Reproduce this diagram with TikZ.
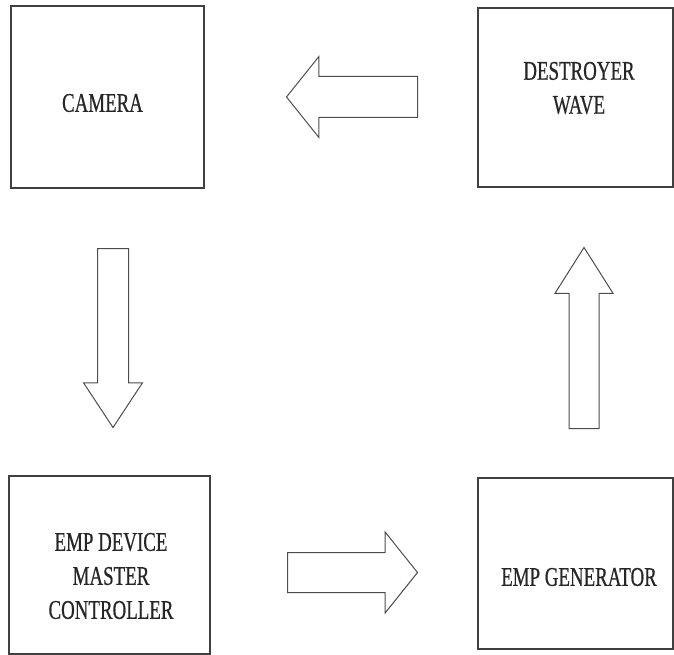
\documentclass[tikz,border=0pt]{standalone}
\usepackage{fontspec}
\newfontfamily\boxfont[FakeStretch=0.7,FakeBold=0.6]{Liberation Serif}
\usetikzlibrary{shapes.arrows}

\begin{document}
\begin{tikzpicture}[x=1pt, y=-1pt,
   block/.style={draw=black!75, line width=1.3pt, rectangle, inner sep=0pt},
   txt/.style={font=\boxfont\fontsize{27}{34}\selectfont, align=center, text=black!85},
   bigarrow/.style={draw=black!70, line width=1pt, single arrow, anchor=tail, line join=miter, single arrow head indent=0pt}]
\useasboundingbox (0,0) rectangle (674,655);
% the four blocks
\node[block, minimum width=193pt, minimum height=182pt, label={[txt, xshift=-5pt, yshift=-6pt]center:CAMERA}] (cam) at (107.5,97) {};
\node[block, minimum width=195pt, minimum height=179pt, label={[txt, xshift=3.5pt, yshift=9.5pt]center:DESTROYER\\WAVE}] (wave) at (575.5,97.5) {};
\node[block, minimum width=201pt, minimum height=178pt, label={[txt, xshift=1.5pt, yshift=-11pt]center:EMP DEVICE\\MASTER\\CONTROLLER}] (ctrl) at (109.5,565) {};
\node[block, minimum width=195pt, minimum height=171pt, label={[txt, xshift=3.5pt, yshift=-13.5pt]center:EMP GENERATOR}] (gen) at (575.5,563.5) {};
% block arrows between them (placed by their tails)
\node[bigarrow, inner sep=20pt, shape border rotate=180, minimum height=131pt, minimum width=80pt, single arrow head extend=20pt, single arrow tip angle=102.7] (wave-cam) at (418,97) {};
\node[bigarrow, inner sep=15pt, shape border rotate=270, minimum height=179pt, minimum width=58pt, single arrow head extend=14pt, single arrow tip angle=66.8] (cam-ctrl) at (113,248) {};
\node[bigarrow, inner sep=19.5pt, shape border rotate=0, minimum height=130pt, minimum width=80pt, single arrow head extend=20.5pt, single arrow tip angle=102.7] (ctrl-gen) at (287,572.5) {};
\node[bigarrow, inner sep=14.5pt, shape border rotate=90, minimum height=181pt, minimum width=57pt, single arrow head extend=14pt, single arrow tip angle=64.7] (gen-wave) at (584,429) {};
\end{tikzpicture}
\end{document}
